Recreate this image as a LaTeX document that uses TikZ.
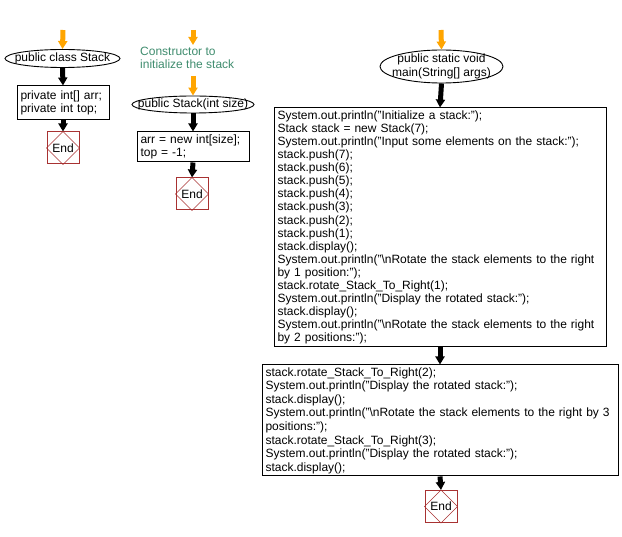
\documentclass[tikz,border=0pt]{standalone}
\usepackage{fontspec}
\setmainfont{Liberation Sans}
\usetikzlibrary{arrows.meta,shapes.geometric}
\definecolor{endred}{HTML}{A83232}
\definecolor{cmtgreen}{HTML}{3F8C6E}
\definecolor{flow}{HTML}{FFA500}
\begin{document}
\begin{tikzpicture}[x=1pt,y=-1pt,
  txt/.style={font=\fontsize{12}{13.2}\selectfont},
  term/.style={ellipse,draw,line width=0.9pt,inner sep=0pt},
  proc/.style={draw,line width=1pt,align=left,inner xsep=3.5pt,inner ysep=0pt,txt},
  endbox/.style={draw=endred,line width=1pt,minimum width=32pt,minimum height=32pt,inner sep=0pt,txt},
  arr/.style={line width=5pt,-{Triangle[length=8pt,width=9pt]}},
  oarr/.style={arr,draw=flow,color=flow},
  barr/.style={arr,draw=black}
]
\useasboundingbox (0,0) rectangle (622,537);

% ---------- left column ----------
\coordinate (s1) at (63,30);
\node[term,minimum width=115pt,minimum height=18pt,label={[txt]center:public class Stack}] (e1) at (62.5,58.5) {};
\node[proc,text width=85pt,minimum width=92pt,minimum height=34pt] (b1) at (63,103) {private int[] arr;\\private int top;};
\node[endbox] (end1) at (63,148) {End};
\draw[endred,line width=0.6pt] (end1.north) -- (end1.east) -- (end1.south) -- (end1.west) -- cycle;
\draw[oarr] (s1) -- (e1.north);
\draw[barr] (e1.south) -- (b1.north);
\draw[barr] (b1.south) -- (end1.north);

% ---------- middle column ----------
\coordinate (s2) at (193,30);
\node[txt,text=cmtgreen,align=left,anchor=north west,inner sep=0pt] (c2) at (140,47) {Constructor to\\initialize the stack};
\coordinate (s2b) at (193,76);
\node[term,minimum width=122pt,minimum height=17pt,label={[txt]center:public Stack(int size)}] (e2) at (193,104.5) {};
\node[proc,text width=105pt,minimum width=112pt,minimum height=30pt] (b2) at (193,147) {arr = new int[size];\\top = -1;};
\node[endbox] (end2) at (192,194) {End};
\draw[endred,line width=0.6pt] (end2.north) -- (end2.east) -- (end2.south) -- (end2.west) -- cycle;
\draw[oarr] (s2) -- ++(0,15);
\draw[oarr] (s2b) -- (e2.north);
\draw[barr] (e2.south) -- (b2.north);
\draw[barr] (b2.south) -- (end2.north);

% ---------- right column ----------
\coordinate (s3) at (441,30);
\node[term,minimum width=123pt,minimum height=33pt,label={[txt,align=center]center:public static void\\main(String[] args)}] (e3) at (441.5,66.5) {};
\node[proc,font=\fontsize{12}{13.1}\selectfont,text width=325pt,minimum width=332pt,minimum height=239pt] (b3) at (440,227.5) {System.out.println("Initialize a stack:");\\
Stack stack = new Stack(7);\\
System.out.println("Input some elements on the stack:");\\
stack.push(7);\\
stack.push(6);\\
stack.push(5);\\
stack.push(4);\\
stack.push(3);\\
stack.push(2);\\
stack.push(1);\\
stack.display();\\
System.out.println("\textbackslash nRotate the stack elements to the right\\
by 1 position:");\\
stack.rotate\_Stack\_To\_Right(1);\\
System.out.println("Display the rotated stack:");\\
stack.display();\\
System.out.println("\textbackslash nRotate the stack elements to the right\\
by 2 positions:");};
\node[proc,font=\fontsize{12}{13.6}\selectfont,text width=349pt,minimum width=356pt,minimum height=111pt] (b4) at (440,420.5) {stack.rotate\_Stack\_To\_Right(2);\\
System.out.println("Display the rotated stack:");\\
stack.display();\\
System.out.println("\textbackslash nRotate the stack elements to the right by 3\\
positions:");\\
stack.rotate\_Stack\_To\_Right(3);\\
System.out.println("Display the rotated stack:");\\
stack.display();};
\node[endbox] (end3) at (441,506.5) {End};
\draw[endred,line width=0.6pt] (end3.north) -- (end3.east) -- (end3.south) -- (end3.west) -- cycle;
\draw[oarr] (s3) -- (e3.north);
\draw[barr] (e3.south) -- (b3.north);
\draw[barr] (b3.south) -- (b4.north);
\draw[barr] (b4.south) -- (end3.north);
\end{tikzpicture}
\end{document}
